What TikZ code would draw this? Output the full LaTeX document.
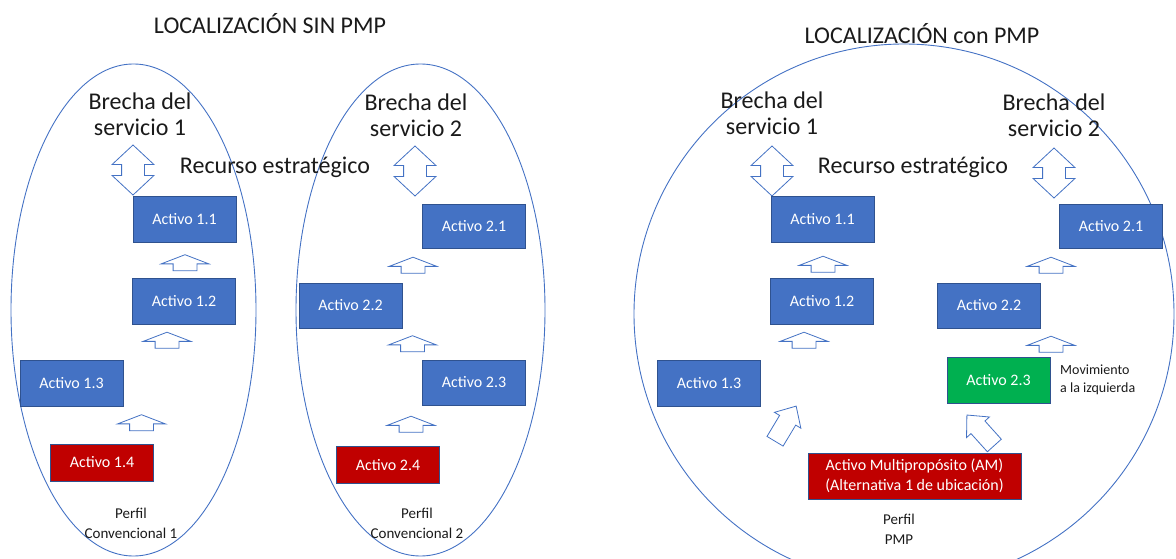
\documentclass[tikz,border=0pt]{standalone}
\usepackage{fontspec}
\setmainfont{Carlito}
\usetikzlibrary{shapes.arrows}
\definecolor{officeblue}{HTML}{4472C4}
\definecolor{edgeblue}{HTML}{2F528F}
\definecolor{assetred}{HTML}{C00000}
\definecolor{assetgreen}{HTML}{00B050}
\definecolor{inkgray}{HTML}{1A1A1A}

\begin{document}
\begin{tikzpicture}[x=1pt,y=-1pt,
  profile/.style={draw=officeblue, line width=0.9pt},
  asset/.style={draw=edgeblue, line width=0.9pt, fill=officeblue, text=white,
    minimum width=103pt, minimum height=46pt, inner sep=0pt,
    font=\fontsize{16}{20}\selectfont},
  redasset/.style={asset, fill=assetred, minimum height=37pt},
  greenasset/.style={asset, fill=assetgreen},
  heading/.style={text=inkgray, font=\fontsize{24}{26}\selectfont, align=center, inner sep=0pt},
  smalllabel/.style={text=inkgray, font=\fontsize{15}{20}\selectfont, align=center, inner sep=0pt},
  uparrow/.style={single arrow, rotate=90, draw=officeblue, fill=white, line width=0.8pt,
    minimum height=16pt, inner xsep=0pt, inner ysep=11.5pt,
    single arrow head extend=12pt, single arrow tip angle=138},
  tiltarrow/.style={single arrow, draw=officeblue, fill=white, line width=0.8pt,
    minimum height=41pt, inner xsep=0pt, inner ysep=9pt,
    single arrow head extend=6pt, single arrow tip angle=86},
  updown/.style={double arrow, rotate=90, draw=officeblue, fill=white, line width=0.8pt,
    minimum height=50pt, inner xsep=0pt, inner ysep=11pt,
    double arrow head extend=9.5pt, double arrow tip angle=94}
]
\useasboundingbox (0,0) rectangle (1176,559);

% ---------- profile outlines ----------
\draw[profile] (133.5,310) ellipse [x radius=122.5pt, y radius=246pt];
\draw[profile] (420.5,310) ellipse [x radius=124.5pt, y radius=246pt];
\begin{scope}
  \clip (0,0) rectangle (1176,559);
  \draw[profile] (904,314) circle [radius=270pt];
\end{scope}

% ---------- titles ----------
\node[heading] (titleA) at (270,24) {LOCALIZACIÓN SIN PMP};
\node[heading] (titleB) at (922,34) {LOCALIZACIÓN con PMP};

% ---------- conventional profiles ----------
\node[heading] (gapA1) at (140,114) {Brecha del\\servicio 1};
\node[heading] (gapA2) at (416,115) {Brecha del\\servicio 2};
\node[heading] (resA) at (275,167) {Recurso estratégico};

\node[updown] (daA1) at (133,170) {};
\node[updown] (daA2) at (415,171) {};

\node[asset] (a11) at (184.5,219) {Activo 1.1};
\node[asset] (a12) at (184,301) {Activo 1.2};
\node[asset] (a13) at (71.5,383) {Activo 1.3};
\node[redasset] (a14) at (102,462.5) {Activo 1.4};

\node[uparrow] (upA1) at (185,265) {};
\node[uparrow] (upA2) at (167,342.5) {};
\node[uparrow] (upA3) at (141.5,425) {};

\node[asset, minimum height=44pt] (a21) at (474,226) {Activo 2.1};
\node[asset, minimum height=45pt] (a22) at (350.5,305.5) {Activo 2.2};
\node[asset, minimum height=45pt] (a23) at (474,382.5) {Activo 2.3};
\node[redasset] (a24) at (388,465) {Activo 2.4};

\node[uparrow] (upB1) at (413,267.5) {};
\node[uparrow] (upB2) at (412.5,346) {};
\node[uparrow] (upB3) at (411,426.5) {};

\node[smalllabel] (profA1) at (131,523) {Perfil\\Convencional 1};
\node[smalllabel] (profA2) at (417,523.5) {Perfil\\Convencional 2};

% ---------- multipurpose profile ----------
\node[heading] (gapB1) at (772,113) {Brecha del\\servicio 1};
\node[heading] (gapB2) at (1054,115) {Brecha del\\servicio 2};
\node[heading] (resB) at (913,167) {Recurso estratégico};

\node[updown] (daB1) at (772,171) {};
\node[updown] (daB2) at (1054,173) {};

\node[asset] (m11) at (822.5,219) {Activo 1.1};
\node[asset] (m12) at (822,301) {Activo 1.2};
\node[asset] (m13) at (709,383) {Activo 1.3};
\node[asset, minimum height=44pt] (m21) at (1111,226) {Activo 2.1};
\node[asset, minimum height=45pt] (m22) at (989,305.5) {Activo 2.2};
\node[greenasset] (m23) at (998.5,380) {Activo 2.3};

\node[uparrow] (upC1) at (823,266.5) {};
\node[uparrow] (upC2) at (804,342.5) {};
\node[uparrow] (upD1) at (1051,267.5) {};
\node[uparrow] (upD2) at (1051,346.5) {};

\node[text=inkgray, font=\fontsize{14}{17.5}\selectfont, align=left, anchor=west, inner sep=0pt]
  (move) at (1060,380) {Movimiento\\a la izquierda};

\node[asset, fill=assetred, minimum width=213pt, align=center,
  font=\fontsize{16}{20}\selectfont] (am) at (914.5,476)
  {Activo Multipropósito (AM)\\(Alternativa 1 de ubicación)};

\node[tiltarrow, rotate=59] (tiltL) at (783,428) {};
\node[tiltarrow, rotate=132] (tiltR) at (984,434) {};

\node[smalllabel] (profB) at (899,529.5) {Perfil\\PMP};
\end{tikzpicture}
\end{document}
